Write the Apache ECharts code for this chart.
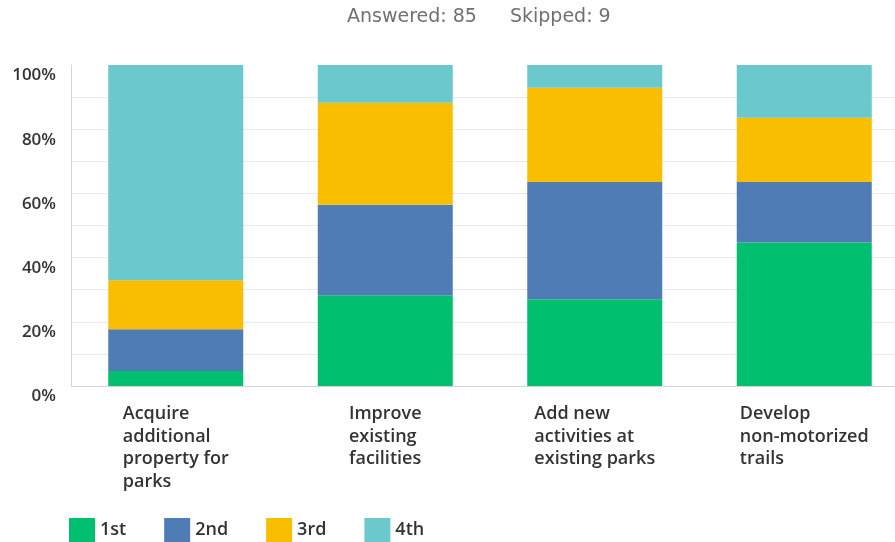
<!DOCTYPE html>
<html>
<head>
<meta charset="utf-8">
<script src="https://cdn.jsdelivr.net/npm/echarts@6/dist/echarts.min.js"></script>
<style>
html,body{margin:0;padding:0;background:#fff;overflow:hidden;width:895px;height:542px;}
#chart{width:909px;height:542px;}
</style>
</head>
<body>
<div id="chart"></div>
<script>
const categories = [
  "Acquire\nadditional\nproperty for\nparks",
  "Improve\nexisting\nfacilities",
  "Add new\nactivities at\nexisting parks",
  "Develop\nnon-motorized\ntrails"
];
const seriesNames = ["1st", "2nd", "3rd", "4th"];
const first  = [4.71, 28.24, 27.06, 44.71];
const second = [12.94, 28.24, 36.47, 18.82];
const third  = [15.29, 31.76, 29.41, 20.00];
const fourth = [67.06, 11.76, 7.06, 16.47];
const yTicks = [0, 20, 40, 60, 80, 100];
const answeredText = "Answered: 85";
const skippedText = "Skipped: 9";

const colors = ["#00BF6F", "#507CB6", "#F9BE00", "#6BC8CD"];
const font = "Open Sans";
const values = [first, second, third, fourth];

const chart = echarts.init(document.getElementById('chart'));
chart.setOption({
  animation: false,
  textStyle: { fontFamily: font },
  title: {
    text: '{a|' + answeredText + '}{g|}{a|' + skippedText + '}',
    left: 342, top: 3,
    textStyle: {
      rich: {
        a: { fontSize: 19, fontWeight: 'normal', color: '#707070', fontFamily: 'DejaVu Sans' },
        g: { width: 33 }
      }
    }
  },
  legend: {
    data: seriesNames,
    left: 69, bottom: 0, padding: 0,
    icon: 'rect',
    itemWidth: 26, itemHeight: 24, itemGap: 38,
    textStyle: { fontSize: 18, fontWeight: 600, color: '#333', fontFamily: font }
  },
  grid: { left: 71, top: 65, bottom: 156, right: 0, containLabel: false },
  xAxis: {
    type: 'category',
    data: categories,
    axisTick: { show: false },
    axisLine: { lineStyle: { color: '#d4d4d4', width: 1 } },
    axisLabel: {
      interval: 0,
      margin: 17,
      formatter: v => v.split('\n').map(s => '{a|' + s + '}').join('\n'),
      rich: {
        a: { align: 'left', fontSize: 18, fontWeight: 600, color: '#333', lineHeight: 22.5, fontFamily: font }
      }
    }
  },
  yAxis: {
    type: 'value',
    min: 0, max: 100, interval: 10,
    axisLine: { show: true, lineStyle: { color: '#d4d4d4' } },
    axisTick: { show: false },
    splitLine: { show: true, showMaxLine: false, lineStyle: { color: '#ebebeb' } },
    axisLabel: {
      margin: 15,
      verticalAlign: 'top',
      padding: [2, 0, 0, 0],
      fontSize: 17, fontWeight: 600, color: '#333', fontFamily: font,
      formatter: v => yTicks.indexOf(v) >= 0 ? v + '%' : ''
    }
  },
  series: seriesNames.map((n, i) => ({
    name: n,
    type: 'bar',
    stack: 'total',
    barWidth: 135,
    itemStyle: { color: colors[i] },
    data: values[i]
  }))
});
</script>
</body>
</html>
